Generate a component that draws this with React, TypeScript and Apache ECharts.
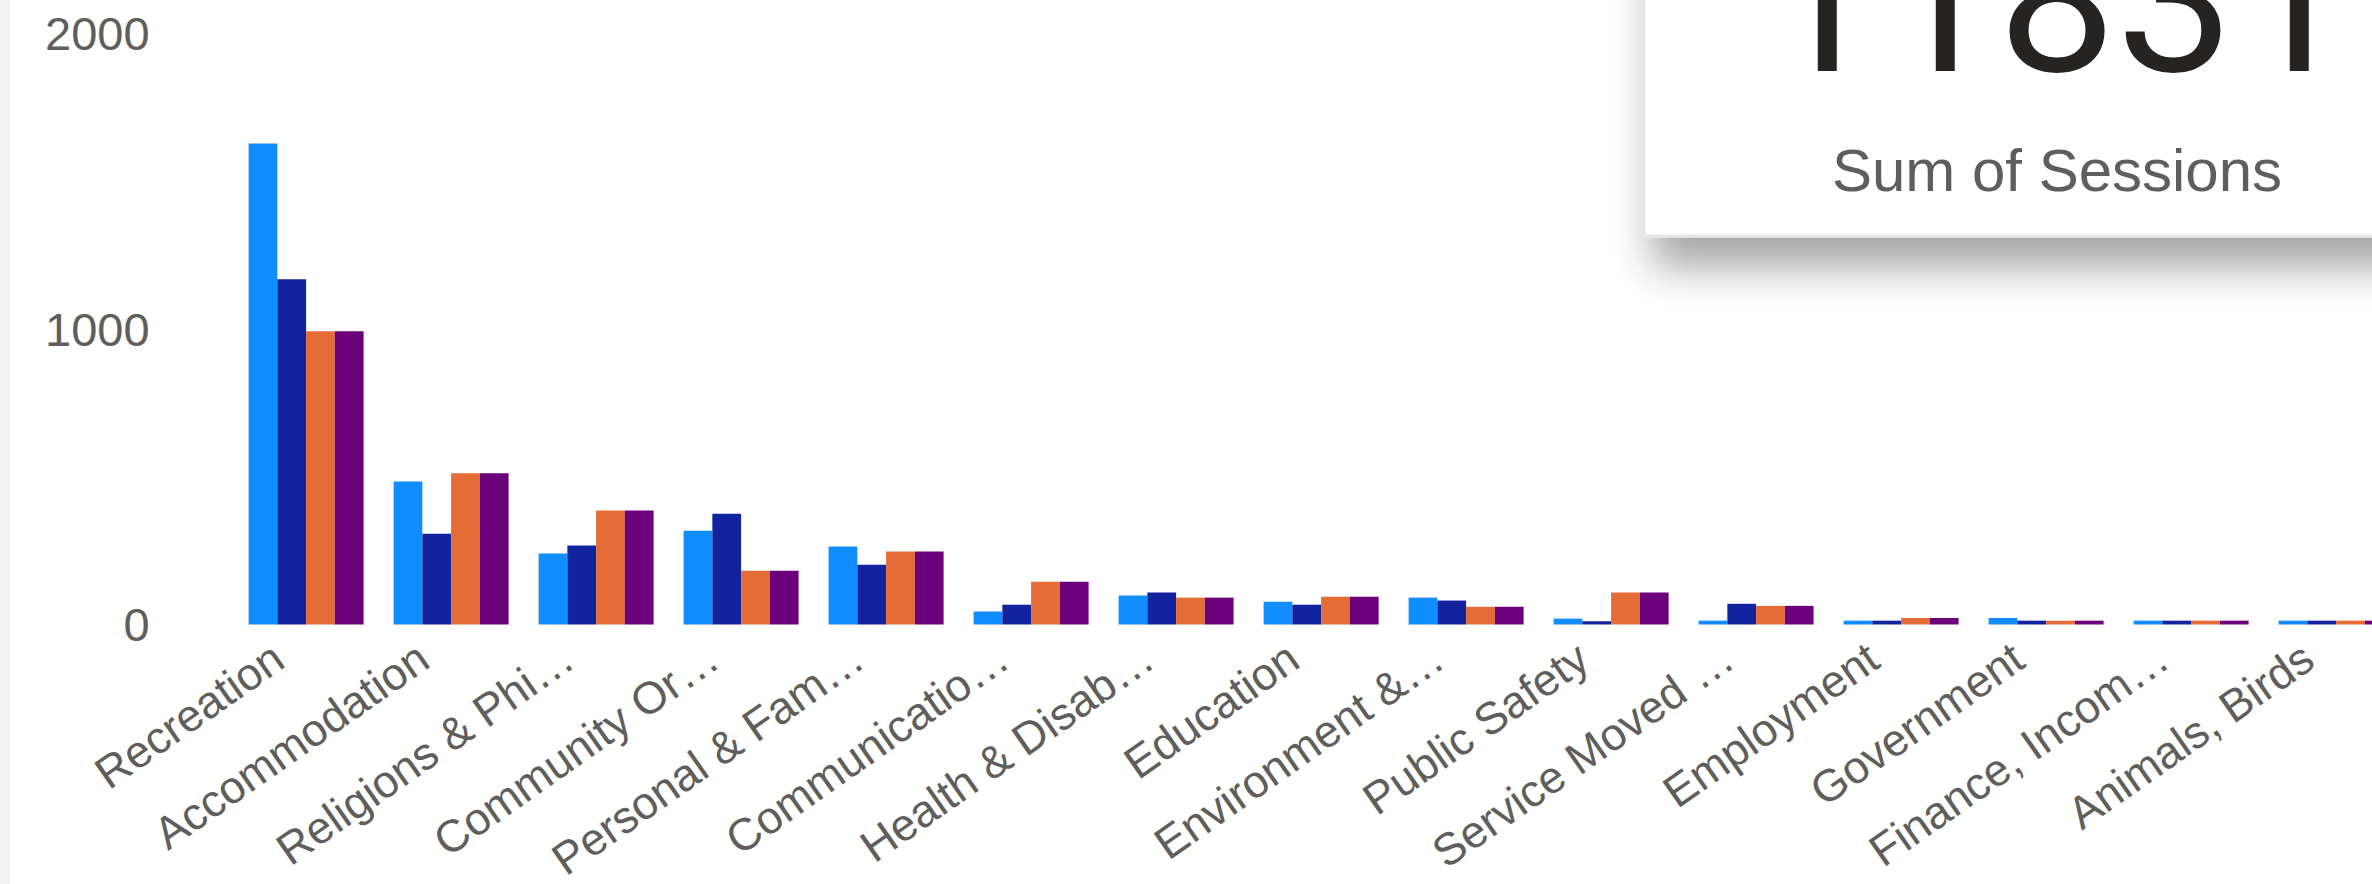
import React, { useEffect, useRef } from 'react';
import * as echarts from 'echarts';

const categories = [
  'Recreation',
  'Accommodation',
  'Religions & Phi…',
  'Community Or…',
  'Personal & Fam…',
  'Communicatio…',
  'Health & Disab…',
  'Education',
  'Environment &…',
  'Public Safety',
  'Service Moved …',
  'Employment',
  'Government',
  'Finance, Incom…',
  'Animals, Birds',
];

const seriesNames = ['Series 1', 'Series 2', 'Series 3', 'Series 4'];
const seriesColors = ['#118DFF', '#12239E', '#E66C37', '#6B007B'];

const series1 = [1628, 484, 240, 317, 264, 44, 98, 77, 91, 20, 13, 13, 22, 13, 13];
const series2 = [1168, 307, 267, 375, 202, 67, 108, 67, 81, 11, 70, 13, 13, 13, 13];
const series3 = [992, 512, 386, 182, 247, 145, 91, 94, 60, 108, 63, 22, 13, 13, 13];
const series4 = [992, 512, 386, 182, 247, 145, 91, 94, 60, 108, 63, 22, 13, 13, 13];

const yMin = 0;
const yMax = 2000;
const yInterval = 1000;

const cardValue = '11831';
const cardLabel = 'Sum of Sessions';

const FONT = "'Liberation Sans', Arial, sans-serif";
const NUM_FONT = 'Roboto, sans-serif';
const LABEL_COLOR = '#605E5C';

export default function App() {
  const ref = useRef<HTMLDivElement>(null);

  useEffect(() => {
    if (!ref.current) return;
    const chart = echarts.init(ref.current, null, { renderer: 'svg' });
    const allSeries = [series1, series2, series3, series4];
    chart.setOption({
      animation: false,
      backgroundColor: '#ffffff',
      textStyle: { fontFamily: FONT },
      grid: {
        left: 233.6,
        right: 11.4,
        top: 33.5,
        bottom: 259.5,
        containLabel: false,
        outerBoundsMode: 'none',
      },
      xAxis: {
        type: 'category',
        data: categories,
        axisLine: { show: false },
        axisTick: { show: false },
        splitLine: { show: false },
        axisLabel: {
          interval: 0,
          rotate: 35,
          fontSize: 45,
          color: LABEL_COLOR,
          fontFamily: FONT,
          margin: 9,
          padding: [0, 34, 0, 0],
        },
      },
      yAxis: {
        type: 'value',
        min: yMin,
        max: yMax,
        interval: yInterval,
        axisLine: { show: false },
        axisTick: { show: false },
        splitLine: { show: false },
        axisLabel: {
          fontSize: 47,
          color: LABEL_COLOR,
          fontFamily: FONT,
          margin: 84,
          formatter: (v: number) => String(v),
        },
      },
      series: allSeries.map((d, i) => ({
        type: 'bar',
        name: seriesNames[i],
        data: d,
        barGap: '0%',
        barCategoryGap: '20.7%',
        itemStyle: { color: seriesColors[i] },
      })),
      graphic: [
        {
          type: 'rect',
          silent: true,
          z: 1,
          shape: { x: 0, y: 0, width: 10, height: 884 },
          style: { fill: '#f3f3f3' },
        },
        {
          type: 'rect',
          silent: true,
          z: 100,
          shape: { x: 1644, y: -60, width: 800, height: 296 },
          style: {
            fill: '#ffffff',
            stroke: '#e6e6e6',
            lineWidth: 3,
            shadowBlur: 40,
            shadowOffsetX: 10,
            shadowOffsetY: 30,
            shadowColor: 'rgba(0,0,0,0.35)',
          },
        },
        {
          type: 'text',
          silent: true,
          z: 101,
          x: 2057,
          y: -1.5,
          style: {
            text: cardValue,
            fontSize: 210,
            fontFamily: NUM_FONT,
            fill: '#252423',
            textAlign: 'center',
            textVerticalAlign: 'middle',
          },
        },
        {
          type: 'text',
          silent: true,
          z: 101,
          x: 2057,
          y: 170,
          style: {
            text: cardLabel,
            fontSize: 60,
            fontFamily: FONT,
            fill: LABEL_COLOR,
            textAlign: 'center',
            textVerticalAlign: 'middle',
          },
        },
      ],
    });
    return () => chart.dispose();
  }, []);

  return (
    <div
      style={{
        position: 'fixed',
        left: 0,
        top: 0,
        width: 2372,
        height: 884,
        overflow: 'hidden',
        background: '#ffffff',
      }}
    >
      <div ref={ref} style={{ width: 2420, height: 884 }} />
    </div>
  );
}
